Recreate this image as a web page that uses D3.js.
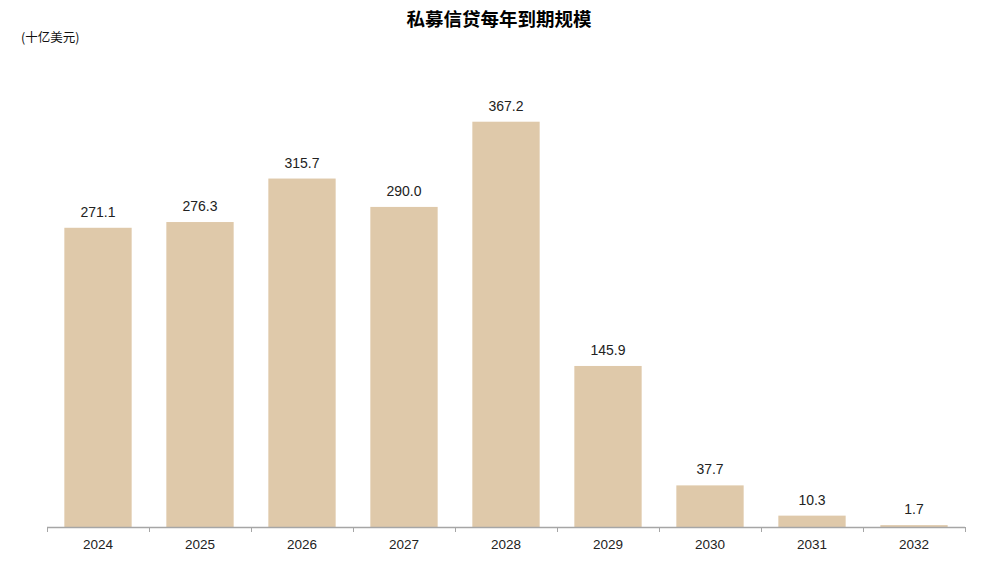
<!DOCTYPE html>
<html>
<head>
<meta charset="utf-8">
<script src="https://cdn.jsdelivr.net/npm/d3@7"></script>
<style>
  html, body { margin: 0; padding: 0; background: #fff; }
  svg { display: block; }
</style>
</head>
<body>
<svg id="chart" width="993" height="570"></svg>
<script>
const categories = ["2024", "2025", "2026", "2027", "2028", "2029", "2030", "2031", "2032"];
const values = [271.1, 276.3, 315.7, 290.0, 367.2, 145.9, 37.7, 10.3, 1.7];
const titleText = "私募信贷每年到期规模";
const unitText = "(十亿美元)";

const svg = d3.select("#chart");
const left = 47, right = 965, bottom = 527;

const x = d3.scaleBand().domain(categories).range([left, right]).paddingInner(0.34).paddingOuter(0.17);
const y = d3.scaleLinear().domain([0, 400]).range([bottom, bottom - 441.5]);

// bars
svg.append("g").selectAll("rect").data(values).join("rect")
  .attr("x", (d, i) => x(categories[i]))
  .attr("width", x.bandwidth())
  .attr("y", d => y(d))
  .attr("height", d => y(0) - y(d))
  .attr("fill", "#dfc9aa");

// value labels
svg.append("g").selectAll("text").data(values).join("text")
  .attr("x", (d, i) => x(categories[i]) + x.bandwidth() / 2)
  .attr("y", d => y(d) - 11)
  .attr("text-anchor", "middle")
  .attr("font-family", "Liberation Sans, Arial, sans-serif")
  .attr("font-size", 14)
  .attr("fill", "#222")
  .text(d => d.toFixed(1));

// x axis with ticks at band boundaries
const axisG = svg.append("g");
axisG.append("line")
  .attr("x1", left).attr("x2", right)
  .attr("y1", bottom + 0.5).attr("y2", bottom + 0.5)
  .attr("stroke", "#a6a6a6").attr("stroke-width", 1.5);
const boundaries = d3.range(categories.length + 1).map(i => left + i * (right - left) / categories.length);
axisG.selectAll("line.tick").data(boundaries).join("line")
  .attr("class", "tick")
  .attr("x1", d => Math.round(d) + 0.5).attr("x2", d => Math.round(d) + 0.5)
  .attr("y1", bottom).attr("y2", bottom + 5)
  .attr("stroke", "#a6a6a6").attr("stroke-width", 1);
axisG.selectAll("text").data(categories).join("text")
  .attr("x", d => x(d) + x.bandwidth() / 2)
  .attr("y", 549)
  .attr("text-anchor", "middle")
  .attr("font-family", "Liberation Sans, Arial, sans-serif")
  .attr("font-size", 13.5)
  .attr("fill", "#222")
  .text(d => d);

// title
svg.append("text")
  .attr("x", 499).attr("y", 26)
  .attr("text-anchor", "middle")
  .attr("font-family", "Noto Sans CJK SC, sans-serif")
  .attr("font-weight", "bold")
  .attr("font-size", 18.5)
  .attr("fill", "#000")
  .text(titleText);

// unit
svg.append("text")
  .attr("x", 21).attr("y", 42)
  .attr("font-family", "Noto Sans CJK SC, sans-serif")
  .attr("font-size", 12.5)
  .attr("fill", "#111")
  .text(unitText);
</script>
</body>
</html>
